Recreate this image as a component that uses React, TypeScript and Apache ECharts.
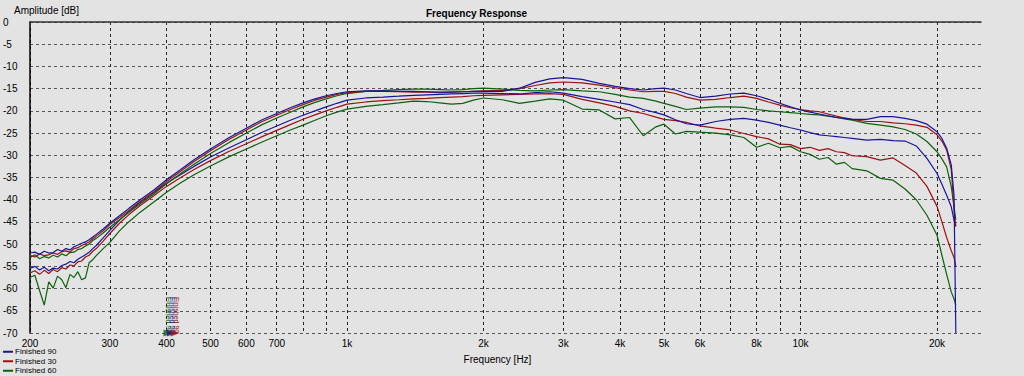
import React, { useEffect, useRef } from "react";
import * as echarts from "echarts";

// Frequencies (Hz) shared by all curves
const freqs = [
  200, 205, 210, 215, 220, 225, 230, 235, 240, 245, 250, 255, 260, 265, 270, 275, 280,
  290, 300, 315, 330, 350, 375, 400, 430, 460,
  500, 550, 600, 650, 700, 750, 800, 850, 900, 950, 1000,
  1100, 1200, 1300, 1400, 1500, 1600, 1700, 1800, 1900, 2000,
  2200, 2400, 2600, 2800, 3000,
  3300, 3600, 3900, 4200, 4500, 4800, 5000, 5300, 5600, 6000,
  6500, 7000, 7500, 8000, 8500, 9000, 9500, 10000,
  10500, 11000, 11500, 12000, 12500, 13000,
  14000, 15000, 16000, 17000, 18000, 19000, 20000,
  20500, 21000, 21500, 21800, 22000,
];

// Upper group (dB)
const blueA = [
  -52.0, -51.8, -52.3, -51.6, -52.0, -51.9, -51.2, -51.6, -51.0, -51.3, -50.6, -50.2, -49.8, -49.5, -49.0, -48.4, -47.8,
  -46.6, -45.3, -43.6, -42.0, -40.0, -37.8, -35.5, -33.2, -31.0,
  -28.6, -26.0, -23.9, -22.0, -20.6, -19.3, -18.2, -17.3, -16.6, -16.1, -15.7,
  -15.5, -15.5, -15.6, -15.6, -15.7, -15.8, -15.8, -15.7, -15.6, -15.6,
  -15.6, -14.9, -13.6, -12.8, -12.5,
  -12.9, -13.8, -14.5, -15.0, -15.3, -15.0, -14.9, -15.3, -16.1, -17.0,
  -16.7, -16.2, -16.0, -16.6, -17.4, -18.3, -19.1, -19.8,
  -20.3, -20.7, -21.1, -21.5, -21.7, -21.9,
  -21.9, -21.3, -21.3, -21.7, -22.2, -23.0, -24.7,
  -26.2, -28.4, -32.2, -39.0, -70.0,
];
const redA = [
  -52.5, -52.9, -52.2, -52.6, -52.4, -52.0, -52.3, -51.7, -51.5, -51.8, -51.0, -50.8, -50.3, -49.9, -49.5, -48.8, -48.2,
  -47.0, -45.6, -44.0, -42.4, -40.4, -38.2, -35.9, -33.6, -31.4,
  -29.0, -26.4, -24.3, -22.4, -21.0, -19.7, -18.6, -17.6, -16.9, -16.3, -15.9,
  -15.6, -15.6, -15.7, -15.8, -15.8, -15.9, -15.8, -15.7, -15.6, -15.5,
  -15.4, -15.0, -14.3, -13.7, -13.5,
  -13.7, -14.2, -14.8, -15.3, -15.7, -15.6, -15.6, -16.1, -16.9, -17.6,
  -17.4, -17.0, -16.7, -17.2, -18.0, -18.7, -19.3, -19.7,
  -20.0, -20.2, -20.7, -21.2, -21.6, -21.9,
  -22.4, -22.4, -22.7, -22.9, -23.2, -23.7, -25.4,
  -26.8, -28.8, -33.3, -42.0, -46.0,
];
const greenA = [
  -53.0, -52.4, -53.3, -52.8, -53.1, -52.5, -52.9, -52.2, -52.6, -51.9, -51.8, -51.2, -51.0, -50.4, -50.0, -49.2, -48.7,
  -47.5, -46.2, -44.5, -42.9, -40.9, -38.7, -36.4, -34.1, -32.0,
  -29.6, -27.1, -25.0, -23.1, -21.6, -20.3, -19.1, -18.1, -17.3, -16.6, -16.1,
  -15.6, -15.4, -15.2, -15.1, -15.1, -15.2, -15.3, -15.2, -15.0, -14.9,
  -15.1, -15.4, -15.5, -15.3, -15.2,
  -15.5, -15.7, -16.3, -16.9, -17.2, -17.8, -18.3, -19.0, -19.7, -19.4,
  -19.1, -19.1, -19.2, -19.7, -20.0, -20.2, -20.4, -20.6,
  -20.8, -20.9, -21.2, -21.5, -21.8, -22.1,
  -22.8, -23.2, -23.6, -24.2, -25.2, -26.9, -29.2,
  -30.8, -32.6, -37.1, -41.6, -44.5,
];

// Lower group (dB)
const blueB = [
  -55.5, -55.0, -55.8, -55.2, -56.0, -55.4, -55.6, -54.8, -54.5, -53.9, -54.2, -53.4, -52.9, -52.4, -51.8, -51.0, -50.3,
  -48.6, -46.9, -44.6, -42.7, -40.6, -38.4, -36.3, -34.3, -32.5,
  -30.4, -28.3, -26.5, -24.8, -23.4, -22.1, -21.0, -20.0, -19.1, -18.3, -17.6,
  -17.1, -16.9, -16.7, -16.5, -16.4, -16.3, -16.2, -16.1, -16.0, -16.0,
  -16.1, -16.2, -15.9, -15.7, -16.0,
  -16.8, -17.4, -18.0, -18.6, -19.7, -20.4, -20.9, -22.0, -22.9, -23.2,
  -22.4, -21.9, -21.7, -22.1, -22.6, -23.2, -23.8, -24.3,
  -24.9, -25.4, -25.6, -25.8, -26.0, -26.2,
  -26.6, -26.4, -26.7, -26.8, -27.9, -30.7, -34.1,
  -36.5, -39.0, -41.6, -44.6, -46.0,
];
const redB = [
  -56.5, -56.0, -56.8, -55.9, -56.6, -55.7, -56.2, -55.3, -55.6, -54.7, -54.9, -54.0, -53.8, -52.9, -52.5, -51.6, -51.0,
  -49.3, -47.6, -45.3, -43.4, -41.3, -39.1, -37.0, -35.0, -33.2,
  -31.2, -29.1, -27.4, -25.8, -24.4, -23.1, -21.9, -20.9, -20.0, -19.2, -18.5,
  -18.0, -17.7, -17.5, -17.3, -17.2, -17.0, -16.9, -16.8, -16.6, -16.5,
  -16.4, -16.3, -16.2, -16.1, -16.3,
  -17.4, -18.2, -19.0, -20.0, -20.6, -21.4, -21.9, -22.2, -22.6, -23.4,
  -23.9, -24.3, -25.1, -25.8, -26.3, -27.5, -27.6, -28.5,
  -28.2, -28.9, -28.5, -29.2, -29.4, -30.1,
  -30.3, -31.1, -30.6, -32.3, -34.0, -37.0, -41.5,
  -45.0, -48.5, -51.5, -53.0, -55.0,
];
const greenB = [
  -57.5, -57.0, -60.5, -63.7, -58.5, -59.9, -57.2, -58.0, -59.8, -56.8, -57.5, -56.2, -58.0, -57.6, -54.2, -53.5, -52.6,
  -51.0, -49.6, -47.0, -45.0, -42.8, -40.5, -38.3, -36.2, -34.4,
  -32.4, -30.3, -28.6, -27.0, -25.6, -24.3, -23.2, -22.1, -21.1, -20.3, -19.6,
  -19.0, -18.6, -18.2, -17.8, -17.9, -18.2, -18.5, -18.3, -17.6, -17.1,
  -17.5, -18.3, -17.8, -17.3, -17.6,
  -19.6, -19.8, -21.8, -21.5, -25.6, -23.6, -23.0, -25.2, -24.6, -24.8,
  -25.0, -25.4, -26.0, -28.2, -27.3, -28.3, -28.0, -29.2,
  -29.8, -30.9, -30.5, -32.0, -31.6, -33.0,
  -33.5, -35.2, -35.6, -37.6, -40.0, -43.5, -48.0,
  -52.5, -56.8, -60.8, -62.3, -63.7,
];

const gridFreqs = [200, 300, 400, 500, 600, 700, 800, 900, 1000, 2000, 3000, 4000, 5000, 6000, 7000, 8000, 9000, 10000, 20000];
const labelFreqs = [200, 300, 400, 500, 600, 700, 1000, 2000, 3000, 4000, 5000, 6000, 8000, 10000, 20000];
const legendNames = ["Finished 90", "Finished 30", "Finished 60"];
const markerFreqs = [403, 410, 418];
const markerLabel = "Finished 90";

const BLUE = "#16169c";
const RED = "#9c1212";
const GREEN = "#0c620c";
const FONT = "'Liberation Sans', Arial, sans-serif";

export default function App() {
  const ref = useRef<HTMLDivElement>(null);
  useEffect(() => {
    if (!ref.current) return;
    const chart = echarts.init(ref.current, null, { renderer: "svg" });
    const toData = (arr: number[]) => freqs.map((f, i) => [Math.log10(f), arr[i]]);
    const mk = (name: string, arr: number[], color: string) => ({
      name,
      type: "line",
      data: toData(arr),
      showSymbol: false,
      symbol: "none",
      color,
      lineStyle: { color, width: 1.2 },
      silent: true,
    });
    const colors = [BLUE, RED, GREEN];
    chart.setOption({
      animation: false,
      backgroundColor: "#e3e3e3",
      textStyle: { fontFamily: FONT },
      title: [
        {
          text: "Frequency Response",
          left: 421,
          top: 3,
          textStyle: { fontSize: 10, fontWeight: "bold", color: "#000", fontFamily: FONT },
        },
        {
          text: "Amplitude [dB]",
          left: 9,
          top: 0,
          textStyle: { fontSize: 10, fontWeight: "normal", color: "#000", fontFamily: FONT },
        },
      ],
      legend: {
        data: legendNames,
        orient: "vertical",
        left: 3,
        top: 347,
        height: 29,
        itemWidth: 10,
        itemHeight: 2,
        itemGap: 0,
        icon: "rect",
        padding: 0,
        textStyle: {
          fontSize: 8,
          color: "#000",
          fontFamily: FONT,
          lineHeight: 9.5,
          padding: [0, 0, 0, -3],
        },
      },
      grid: { left: 30, right: 43, top: 22, bottom: 43 },
      xAxis: {
        type: "value",
        min: Math.log10(200),
        max: Math.log10(25000),
        name: "Frequency [Hz]",
        nameLocation: "middle",
        nameGap: 21,
        nameTextStyle: { fontSize: 10, color: "#000", padding: [0, 16, 0, 0] },
        axisLine: { show: true, lineStyle: { color: "#333", width: 1.5 } },
        axisTick: {
          show: true,
          length: 3,
          customValues: gridFreqs.map((f) => Math.log10(f)),
          lineStyle: { color: "#333" },
        },
        axisLabel: {
          customValues: labelFreqs.map((f) => Math.log10(f)),
          fontSize: 10,
          color: "#000",
          margin: 5,
          formatter: (v: number) => {
            const f = Math.round(Math.pow(10, v));
            return f >= 1000 ? f / 1000 + "k" : String(f);
          },
        },
        splitLine: { show: true, lineStyle: { color: "#222", type: [3, 3], width: 1 } },
      },
      yAxis: {
        type: "value",
        min: -70,
        max: 0,
        interval: 5,
        axisLine: { show: true, lineStyle: { color: "#000", width: 1.5 } },
        axisTick: { show: false },
        axisLabel: { fontSize: 10, color: "#000", align: "left", margin: 27 },
        splitLine: { show: true, lineStyle: { color: "#555", type: [3, 3], width: 1 } },
      },
      series: [
        mk("Finished 60 (2)", greenB, GREEN),
        mk("Finished 30 (2)", redB, RED),
        mk("Finished 90 (2)", blueB, BLUE),
        mk(legendNames[2], greenA, GREEN),
        mk(legendNames[1], redA, RED),
        mk(legendNames[0], blueA, BLUE),
        {
          name: "markers",
          type: "scatter",
          symbol: "triangle",
          symbolRotate: -90,
          symbolSize: [7, 9],
          clip: false,
          silent: true,
          z: 5,
          data: markerFreqs.map((f, i) => ({
            value: [Math.log10(f), -70],
            itemStyle: { color: colors[(i + 2) % 3] },
          })),
        },
      ],
    });
    const texts = markerFreqs.map((f, i) => {
      const p = chart.convertToPixel({ gridIndex: 0 }, [Math.log10(f), -70]) as number[];
      return {
        type: "text",
        x: p[0] + 1,
        y: p[1] - 36,
        rotation: -Math.PI / 2,
        silent: true,
        style: {
          text: markerLabel,
          fill: colors[(i + 2) % 3],
          fontSize: 7,
          fontFamily: FONT,
          align: "left",
          verticalAlign: "middle",
        },
      };
    });
    chart.setOption({ graphic: texts });
    return () => chart.dispose();
  }, []);
  return (
    <div
      ref={ref}
      style={{ position: "fixed", left: 0, top: 0, width: 1024, height: 376 }}
    />
  );
}
